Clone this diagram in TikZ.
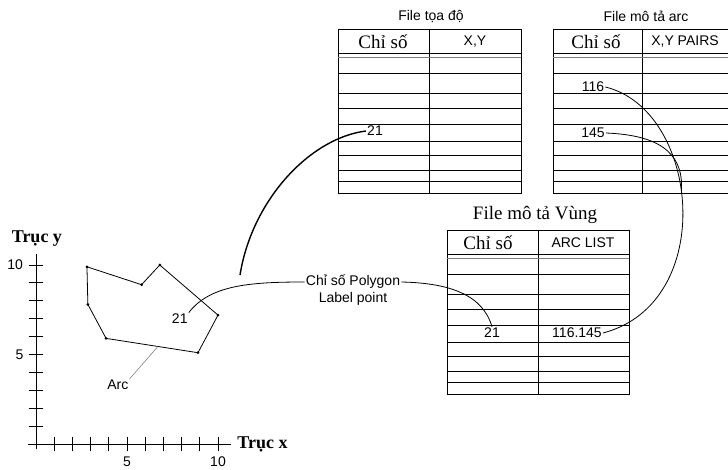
\documentclass[tikz,border=0pt]{standalone}
\usepackage{fontspec}
\setmainfont{Liberation Sans}
\newfontfamily\vnserif{Liberation Serif}
\usetikzlibrary{positioning}

\tikzset{
  tableline/.style={black, line width=0.8pt},
  rowsep/.style={gray, line width=0.6pt},
  sanstext/.style={font=\fontsize{14}{16}\selectfont, inner sep=1pt},
  serifhead/.style={font=\vnserif\fontsize{19}{21}\selectfont, inner sep=1pt},
  axisname/.style={font=\vnserif\bfseries\fontsize{18}{20}\selectfont, inner sep=1pt},
  link/.style={black, line width=0.8pt},
  thicklink/.style={black, line width=1.4pt},
  leader/.style={gray, line width=0.6pt},
  vertex/.style={circle, fill=black, inner sep=0pt, minimum size=3pt},
}

% one record file: left, top, column divider, right
\newcommand{\recordtable}[4]{%
  \draw[tableline] (#1,#2) rectangle (#4,#2+164);
  \draw[tableline] (#3,#2) -- (#3,#2+164);
  \foreach \dy in {24,44,64,79,95,112,126,141,152}
    \draw[tableline] (#1,#2+\dy) -- (#4,#2+\dy);
  \draw[rowsep] (#1,#2+28) -- (#4,#2+28);
}

\begin{document}
\begin{tikzpicture}[x=1pt, y=-1pt]
    \useasboundingbox (0,0) rectangle (728,470);

    % File toa do
    \recordtable{338}{29}{429}{521}
    \node[sanstext] (title1) at (431,16) {File tọa độ};
    \node[serifhead] (head1a) at (383,42) {Chỉ số};
    \node[sanstext] (head1b) at (475,42) {X,Y};
    \node[sanstext] (id1) at (375,131) {21};

    % File mo ta arc, runs past the right edge
    \begin{scope}
        \clip (540,0) rectangle (728,200);
        \recordtable{553}{29}{642}{740}
    \end{scope}
    \node[sanstext] (title2) at (646,16) {File mô tả arc};
    \node[serifhead] (head2a) at (596,42) {Chỉ số};
    \node[sanstext] (head2b) at (685,42) {X,Y PAIRS};
    \node[sanstext] (arc116) at (593,87) {116};
    \node[sanstext] (arc145) at (593,133) {145};

    % File mo ta Vung
    \recordtable{447}{230}{538}{629}
    \node[serifhead] (title3) at (535,215) {File mô tả Vùng};
    \node[serifhead] (head3a) at (488,243) {Chỉ số};
    \node[sanstext] (head3b) at (583,243) {ARC LIST};
    \node[sanstext] (t3id) at (492,333) {21};
    \node[sanstext] (arclist) at (577,333) {116.145};

    % Axes and polygon, in map units
    \begin{scope}[shift={(36,444)}, x=18.2pt, y=17.9pt]
        \draw[tableline] (-0.45,0) -- (10.7,0);
        \draw[tableline] (0,-0.3) -- (0,10.6);
        \foreach \k in {1,...,10} {
            \draw[tableline] (\k,-0.4) -- (\k,0.4);
            \draw[tableline] (-0.4,\k) -- (0.4,\k);
        }
        \node[sanstext] (xfive) at (5,-1) {5};
        \node[sanstext] (xten) at (10,-1) {10};
        \node[sanstext] (yfive) at (-0.9,5) {5};
        \node[sanstext] (yten) at (-1.15,10) {10};
        \node[axisname, anchor=west] (xname) at (11.0,0) {Trục x};
        \node[axisname] (yname) at (0.05,11.5) {Trục y};

        \draw[tableline] (2.8,9.9) -- (5.8,8.9) -- (6.8,10) -- (10,7.2)
            -- (8.9,5.1) -- (3.85,5.9) -- (2.85,7.8) -- cycle;
        \foreach \p in {(2.8,9.9),(5.8,8.9),(6.8,10),(10,7.2),(8.9,5.1),(3.85,5.9),(2.85,7.8)}
            \node[vertex] at \p {};

        \node[sanstext] (polyid) at (7.9,7.0) {21};
        \node[sanstext] (arclbl) at (4.5,3.3) {Arc};
        \coordinate (arcpt) at (6.7,5.45);
    \end{scope}

    \node[sanstext] (pollabel) at (353,282) {Chỉ số Polygon};
    \node[sanstext, below=1pt of pollabel] (lblpoint) {Label point};
    \coordinate (bigstart) at (240,275);

    % connectors
    \draw[thicklink] (bigstart) .. controls (252,200) and (310,138) .. (id1.west);
    \draw[link] (polyid.north east) .. controls (210,285) and (250,282) .. (pollabel.west);
    \draw[link] (pollabel.east) .. controls (450,283) and (483,295) .. (t3id.north);
    \draw[link] (arc116.east) .. controls (700,110) and (718,303) .. (arclist.east)
        coordinate[pos=0.45] (joinpt);
    \draw[link] (arc145.east) .. controls (655,135) and (684,150) .. (joinpt);
    \draw[leader] (arclbl.north east) -- (arcpt);
\end{tikzpicture}
\end{document}
